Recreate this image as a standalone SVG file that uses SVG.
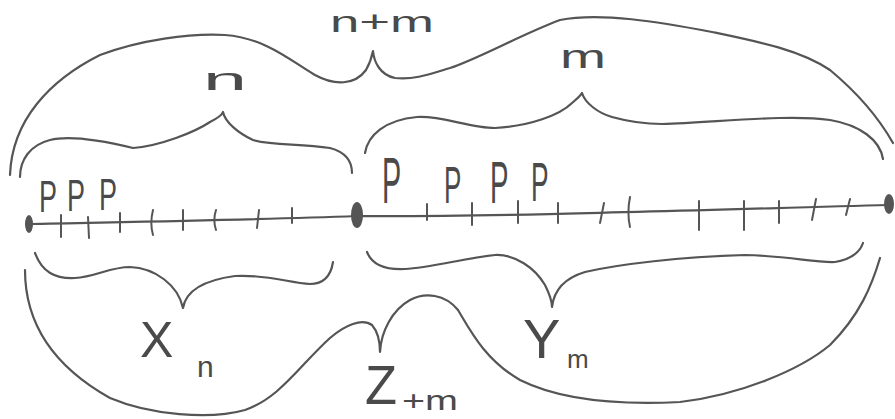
<svg xmlns="http://www.w3.org/2000/svg" width="895" height="419" viewBox="0 0 895 419">
<style>
.s{fill:none;stroke:#555;stroke-width:2.2;stroke-linecap:round;stroke-linejoin:round}
.t{stroke:#555;stroke-width:2;stroke-linecap:round;fill:none}
.d{fill:#555}
.lb{font-family:"Liberation Sans",Arial,sans-serif;fill:#4a4a4a}
</style>
<rect width="895" height="419" fill="#fff"/>
<g id="connectors">
<path id="brace-nm" class="s" d="M10,175 C12,120 50,80 100,55 C140,40 190,33 225,35 C265,38 290,60 315,75 C335,86 355,85 366,70 C370,63 372,56 373,51 C374,62 380,75 395,78 C415,80 430,74 450,68 C480,58 520,35 560,20 C600,12 660,22 712,32 C760,42 800,50 830,70 C860,95 880,120 893,143"/>
<path id="brace-n" class="s" d="M20,177 C20,160 30,145 50,140 C70,135 100,140 133,148 C160,146 195,132 210,122 C218,118 222,115 223,112 C225,122 238,133 253,140 C275,146 300,143 330,148 C345,152 352,160 352,173"/>
<path id="brace-m" class="s" d="M365,153 C368,135 385,120 417,117 C440,115 470,128 495,128 C530,126 560,115 572,103 C578,98 581,95 582,93 C585,103 598,113 612,117 C630,122 650,124 662,124 C720,122 790,114 830,120 C860,125 880,140 883,159"/>
<path id="brace-X" class="s" d="M35,253 C42,272 55,279 75,278 C95,277 110,267 130,267 C155,268 178,285 183,308 C186,290 205,280 235,276 C265,274 290,283 310,284 C325,284 331,275 333,262"/>
<path id="brace-Y" class="s" d="M367,252 C372,265 385,270 405,269 C430,268 465,258 495,255 C515,254 535,268 545,285 C550,295 552,302 552,307 C554,290 565,278 585,272 C620,264 680,257 745,255 C790,256 815,263 835,262 C852,259 860,252 863,243"/>
<path id="brace-Z" class="s" d="M25,270 C25,330 60,370 110,398 C150,415 210,420 245,410 C280,398 300,365 330,338 C345,325 362,318 372,325 C378,332 380,343 380,352 C381,332 392,310 410,300 C425,292 445,294 458,310 C470,330 485,360 520,380 C560,400 620,405 680,402 C740,395 800,370 830,345 C860,315 872,285 880,258"/>
</g>
<g id="axis">
<path class="s" d="M29,224 C120,222 250,220 357,216 C500,217 700,210 889,205"/>
<path class="t" d="M61,215 L61,237 M88,217 L89,238 M120,213 L120,232 M153,210 C151,218 151,228 153,235 M183,210 L183,230 M216,210 C214,216 214,224 216,230 M259,210 L257,228 M292,208 L292,223 M427,204 L427,220 M472,203 L472,225 M518,201 L518,223 M558,203 L558,223 M604,203 L600,223 M630,197 C628,207 628,218 630,227 M699,201 L699,230 M744,201 L744,230 M779,201 L779,223 M816,199 L812,220 M850,199 L846,215"/>
<ellipse class="d" cx="29" cy="224" rx="4" ry="9"/>
<ellipse class="d" cx="357" cy="215" rx="6" ry="13"/>
<ellipse class="d" cx="889" cy="204" rx="5" ry="10"/>
</g>
<g id="points">
<text class="lb" font-size="45" transform="translate(39,212) scale(0.6,1)">P</text>
<text class="lb" font-size="45" transform="translate(67,211) scale(0.6,1)">P</text>
<text class="lb" font-size="45" transform="translate(99,210) scale(0.6,1)">P</text>
<text class="lb" font-size="64" transform="translate(382,203) scale(0.45,1)">P</text>
<text class="lb" font-size="52" transform="translate(444,203) scale(0.5,1)">P</text>
<text class="lb" font-size="59" transform="translate(490,203) scale(0.47,1)">P</text>
<text class="lb" font-size="56" transform="translate(531,201) scale(0.47,1)">P</text>
</g>
<g id="label-nm"><text class="lb" x="330" y="32" font-size="30" textLength="104" lengthAdjust="spacingAndGlyphs">n+m</text></g>
<g id="label-n"><text class="lb" x="203" y="90" font-size="32" textLength="44" lengthAdjust="spacingAndGlyphs">n</text></g>
<g id="label-m"><text class="lb" x="560" y="68" font-size="34" textLength="46" lengthAdjust="spacingAndGlyphs">m</text></g>
<g id="label-X"><text class="lb" x="140" y="357" font-size="50">X<tspan x="197" y="377" font-size="30">n</tspan></text></g>
<g id="label-Y"><text class="lb" x="523" y="358" font-size="56">Y<tspan x="567" y="368" font-size="26">m</tspan></text></g>
<g id="label-Z"><text class="lb" x="365" y="404" font-size="56" textLength="32" lengthAdjust="spacingAndGlyphs">Z</text><text class="lb" x="402" y="410" font-size="28" textLength="56" lengthAdjust="spacingAndGlyphs">+m</text></g>
</svg>
